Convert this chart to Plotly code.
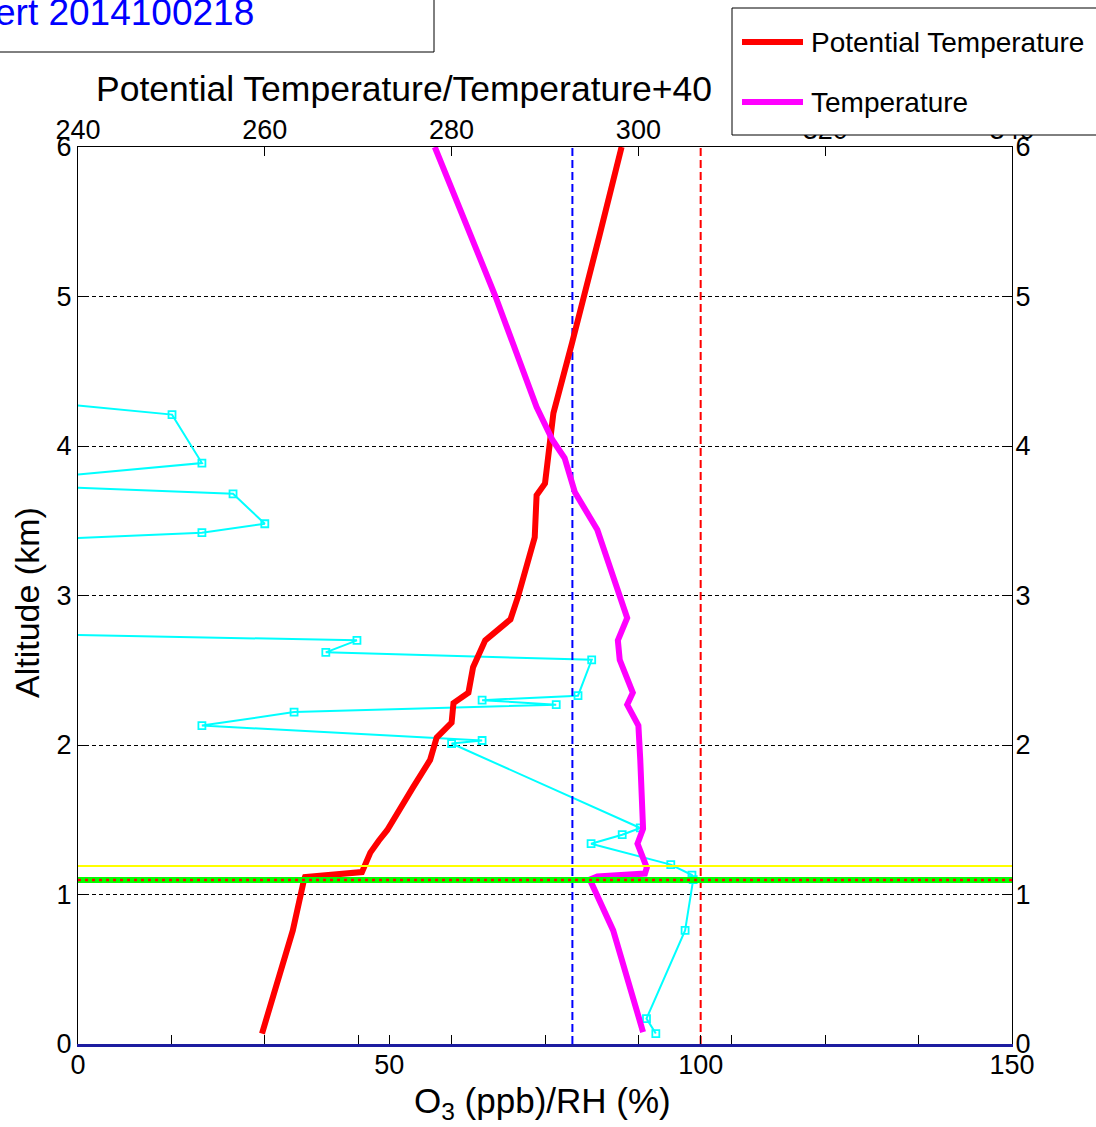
import plotly.graph_objects as go

# ---------------- data ----------------
# Potential temperature (K, top axis) vs altitude (km)
pt_alt = [0.07, 0.76, 1.10, 1.117, 1.15, 1.28, 1.36, 1.43, 1.72, 1.90, 2.05, 2.15,
          2.28, 2.35, 2.52, 2.70, 2.84, 2.99, 3.39, 3.67, 3.75, 4.04, 4.22, 4.69,
          5.00, 5.40, 6.00]
pt_val = [259.7, 263.0, 264.2, 264.3, 270.4, 271.3, 272.2, 273.1, 275.9, 277.7, 278.4, 280.0,
          280.2, 281.8, 282.3, 283.6, 286.3, 287.1, 288.9, 289.1, 290.0, 290.5, 290.9, 292.9,
          294.1, 295.8, 298.2]

# Temperature + 40 (top axis) vs altitude (km)
t_alt = [0.08, 0.76, 1.10, 1.12, 1.14, 1.18, 1.34, 1.44, 1.90, 2.13, 2.27, 2.35,
         2.57, 2.70, 2.85, 3.44, 3.69, 3.92, 4.04, 4.15, 4.26, 5.00, 5.42, 6.00]
t_val = [300.5, 297.3, 294.8, 295.6, 300.7, 300.9, 299.9, 300.5, 300.2, 300.0, 298.8, 299.4,
         298.0, 297.8, 298.8, 295.6, 293.2, 292.1, 290.8, 290.0, 289.1, 284.7, 282.0, 278.2]

# Relative humidity (%, bottom axis) vs altitude (km); negative values fall off the left edge
rh_alt = [0.07, 0.17, 0.76, 1.10, 1.13, 1.20, 1.34, 1.40, 1.445, 2.01, 2.03, 2.13,
          2.22, 2.27, 2.30, 2.33, 2.57, 2.62, 2.70, 2.744, 3.367, 3.42, 3.48, 3.68,
          3.736, 3.772, 3.886, 4.21, 4.31]
rh_val = [92.8, 91.3, 97.5, 98.8, 98.6, 95.2, 82.4, 87.4, 90.3, 60.0, 64.9, 19.9,
          34.7, 76.8, 64.9, 80.3, 82.5, 39.8, 44.8, -10.0, -10.0, 19.9, 30.0, 24.9,
          -10.0, -10.0, 19.9, 15.1, -10.0]

# reference lines
o3_ref = 79.4          # blue dashed (bottom axis)
rh_ref = 100.0         # red dashed (bottom axis)
yellow_alt = 1.19      # yellow layer line (km)
green_alt = 1.097      # green layer line (km)
alt_range = [0, 6]
bottom_range = [0, 150]
top_range = [240, 340]

bottom_ticks = [0, 50, 100, 150]
top_ticks = [240, 260, 280, 300, 320, 340]
top_minor_ticks = [250, 260, 270, 280, 290, 300, 310, 320, 330]
alt_ticks = [0, 1, 2, 3, 4, 5, 6]

# ---------------- layout geometry ----------------
W, H = 1096, 1127
L, R, T, B = 78, 1012, 147, 1044
FONT = "Liberation Sans, Arial, sans-serif"


def px(x):
    return (x - L) / (R - L)


def py(y):
    return (B - y) / (B - T)


fig = go.Figure()

# horizontal layer lines (on the minor-tick axis x3)
fig.add_trace(go.Scatter(x=top_range, y=[green_alt, green_alt], xaxis="x3", yaxis="y",
                         mode="lines", line=dict(color="#00FF00", width=6),
                         showlegend=False, hoverinfo="skip"))
fig.add_trace(go.Scatter(x=top_range, y=[green_alt, green_alt], xaxis="x3", yaxis="y",
                         mode="lines", line=dict(color="#FF0000", width=2.5, dash="3px,4px"),
                         showlegend=False, hoverinfo="skip"))
fig.add_trace(go.Scatter(x=top_range, y=[yellow_alt, yellow_alt], xaxis="x3", yaxis="y",
                         mode="lines", line=dict(color="#FFFF00", width=2),
                         showlegend=False, hoverinfo="skip"))

# vertical reference lines
fig.add_trace(go.Scatter(x=[o3_ref, o3_ref], y=alt_range, xaxis="x", yaxis="y2",
                         mode="lines", line=dict(color="#0000FF", width=2, dash="8px,4px"),
                         showlegend=False, hoverinfo="skip"))
fig.add_trace(go.Scatter(x=[rh_ref, rh_ref], y=alt_range, xaxis="x", yaxis="y2",
                         mode="lines", line=dict(color="#FF0000", width=2, dash="8px,4px"),
                         showlegend=False, hoverinfo="skip"))

# RH
fig.add_trace(go.Scatter(x=rh_val, y=rh_alt, xaxis="x", yaxis="y", name="RH",
                         mode="lines+markers",
                         line=dict(color="#00FFFF", width=2),
                         marker=dict(symbol="square-open", size=7, color="#00FFFF",
                                     line=dict(width=1.8, color="#00FFFF")),
                         showlegend=False))

# Potential temperature
fig.add_trace(go.Scatter(x=pt_val, y=pt_alt, xaxis="x2", yaxis="y", name="Potential Temperature",
                         mode="lines", line=dict(color="#FF0000", width=6),
                         showlegend=False))
# Temperature + 40
fig.add_trace(go.Scatter(x=t_val, y=t_alt, xaxis="x2", yaxis="y", name="Temperature",
                         mode="lines", line=dict(color="#FF00FF", width=6),
                         showlegend=False))

tickfont = dict(family=FONT, size=27, color="black")

fig.update_layout(
    width=W, height=H,
    margin=dict(l=L, r=W - R, t=T, b=H - B, pad=0),
    paper_bgcolor="white", plot_bgcolor="white",
    font=dict(family=FONT, color="black"),
    showlegend=False,
    xaxis=dict(domain=[0, 1], range=bottom_range, tickvals=bottom_ticks,
               ticks="inside", ticklen=9, tickcolor="black", tickwidth=1,
               showline=True, linecolor="#1c1ca0", linewidth=2.5,
               showgrid=False, zeroline=False, tickfont=tickfont, anchor="y",
               ticklabelstandoff=-5),
    xaxis2=dict(overlaying="x", side="top", range=top_range, tickvals=top_ticks,
                ticks="inside", ticklen=9, tickcolor="black", tickwidth=1,
                showline=True, linecolor="black", linewidth=1.3,
                showgrid=False, zeroline=False, tickfont=tickfont, anchor="y",
                ticklabelstandoff=-4),
    xaxis3=dict(overlaying="x", side="bottom", range=top_range, tickvals=top_minor_ticks,
                ticks="inside", ticklen=9, tickcolor="black", tickwidth=1,
                showticklabels=False, showline=False,
                showgrid=False, zeroline=False, anchor="y"),
    yaxis=dict(range=alt_range, tickvals=alt_ticks,
               ticks="inside", ticklen=9, tickcolor="black", tickwidth=1,
               showline=True, linecolor="black", linewidth=1.3,
               showgrid=True, gridcolor="black", gridwidth=1, griddash="4px,3px",
               zeroline=False, tickfont=tickfont, anchor="x"),
    yaxis2=dict(overlaying="y", side="right", range=alt_range, tickvals=alt_ticks,
                ticks="inside", ticklen=9, tickcolor="black", tickwidth=1,
                showline=True, linecolor="black", linewidth=1.3,
                showgrid=False, zeroline=False, tickfont=tickfont, anchor="x",
                ticklabelstandoff=-3),
)

shapes = []
annotations = []

# title box (top-left, partly off the page)
shapes.append(dict(type="rect", xref="paper", yref="paper", layer="above",
                   x0=px(-5), x1=px(434), y0=py(52), y1=py(-5),
                   line=dict(color="black", width=1), fillcolor="white"))
annotations.append(dict(xref="paper", yref="paper", x=px(-7), y=py(12),
                        xanchor="left", yanchor="middle", showarrow=False,
                        text="ert 2014100218",
                        font=dict(family=FONT, size=37, color="#0000FF")))

# legend box (manual, drawn above tick labels)
shapes.append(dict(type="rect", xref="paper", yref="paper", layer="above",
                   x0=px(732), x1=px(1110), y0=py(135), y1=py(8),
                   line=dict(color="black", width=1), fillcolor="white"))
legend_items = [("Potential Temperature", "#FF0000", 42), ("Temperature", "#FF00FF", 102)]
for label, col, yy in legend_items:
    shapes.append(dict(type="line", xref="paper", yref="paper", layer="above",
                       x0=px(742), x1=px(803), y0=py(yy), y1=py(yy),
                       line=dict(color=col, width=6)))
    annotations.append(dict(xref="paper", yref="paper", x=px(809), y=py(yy),
                            xanchor="left", yanchor="middle", showarrow=False,
                            text=label, font=dict(family=FONT, size=28, color="black")))

# axis titles
annotations.append(dict(xref="paper", yref="paper", x=px(404), y=py(89),
                        xanchor="center", yanchor="middle", showarrow=False,
                        text="Potential Temperature/Temperature+40",
                        font=dict(family=FONT, size=35.5, color="black")))
annotations.append(dict(xref="paper", yref="paper", x=px(27), y=py(603),
                        xanchor="center", yanchor="middle", showarrow=False,
                        textangle=-90, text="Altitude (km)",
                        font=dict(family=FONT, size=34, color="black")))
annotations.append(dict(xref="paper", yref="paper", x=px(542), y=py(1103),
                        xanchor="center", yanchor="middle", showarrow=False,
                        text="O<sub>3</sub> (ppb)/RH (%)",
                        font=dict(family=FONT, size=35, color="black")))

fig.update_layout(shapes=shapes, annotations=annotations)

fig.write_html("out.html", config={"displayModeBar": False},
               post_script="document.body.style.margin='0px';")
